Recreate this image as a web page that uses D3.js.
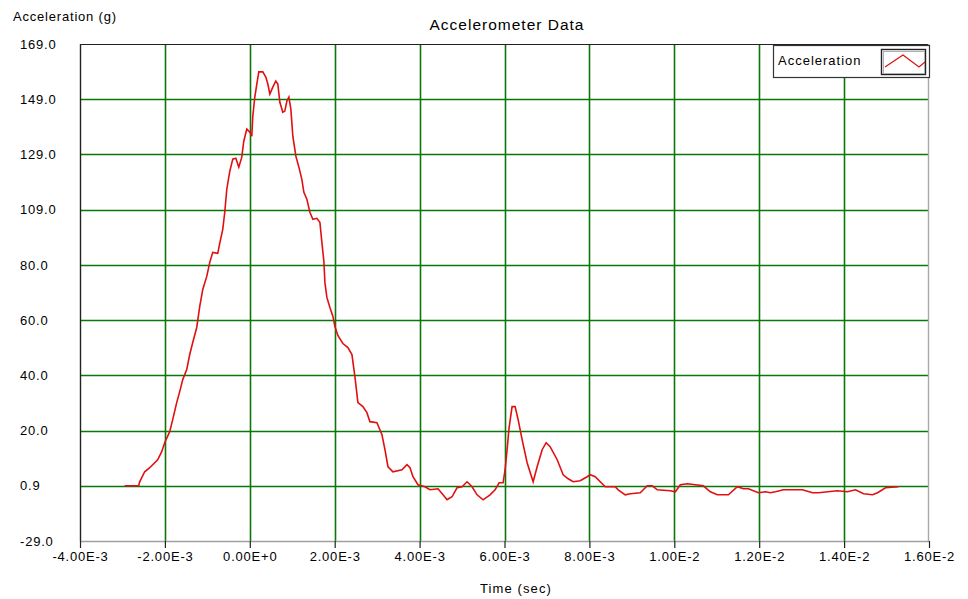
<!DOCTYPE html>
<html>
<head>
<meta charset="utf-8">
<script src="https://cdn.jsdelivr.net/npm/d3@7"></script>
<style>
  html, body { margin: 0; padding: 0; background: #fff; }
  svg { display: block; font-family: "Liberation Sans", Arial, sans-serif; }
</style>
</head>
<body>
<svg id="chart" width="968" height="599"></svg>
<script>
// ---- data (time in seconds, acceleration in g) ----
const timeMs = [
  -2.948,-2.618,-2.594,-2.476,-2.358,-2.170,-2.075,-2.005,-1.887,-1.816,-1.722,-1.651,-1.580,-1.486,-1.415,-1.344,-1.250,-1.179,-1.108,-1.014,
  -0.943,-0.873,-0.755,-0.708,-0.637,-0.590,-0.542,-0.472,-0.401,-0.330,-0.259,-0.189,-0.142,-0.071,0.000,0.047,0.071,0.118,0.165,0.212,
  0.307,0.377,0.425,0.472,0.542,0.613,0.660,0.708,0.778,0.825,0.873,0.920,0.967,1.014,1.085,1.156,1.226,1.274,1.344,1.415,
  1.486,1.580,1.651,1.698,1.745,1.769,1.816,1.887,1.958,2.005,2.075,2.193,2.311,2.406,2.476,2.547,2.665,2.759,2.830,2.995,
  3.113,3.184,3.255,3.373,3.585,3.703,3.774,3.844,3.962,4.127,4.245,4.434,4.552,4.646,4.764,4.882,5.000,5.118,5.236,5.354,
  5.495,5.660,5.778,5.873,5.967,6.014,6.061,6.108,6.179,6.250,6.321,6.415,6.533,6.675,6.769,6.887,6.981,7.075,7.241,7.382,
  7.500,7.618,7.783,7.948,8.019,8.137,8.255,8.373,8.608,8.679,8.844,8.962,9.198,9.363,9.481,9.599,9.906,10.024,10.142,10.307,
  10.684,10.849,11.014,11.274,11.486,11.627,11.745,11.981,12.146,12.264,12.382,12.571,13.019,13.255,13.396,13.844,14.080,14.269,14.458,14.670,
  14.788,14.976,15.283
];
const accel = [
  0,0,1.45,5.08,6.53,9.43,12.34,15.60,19.59,23.95,30.12,34.11,38.46,42.09,47.53,51.89,57.33,64.95,71.12,75.83,
  80.91,84.54,84.18,87.81,92.89,99.06,107.4,113.9,118.3,118.6,115.4,119.0,124.8,129.2,128.1,126.6,133.9,140.8,145.5,149.9,
  149.9,148.0,145.5,141.9,144.4,146.6,145.5,138.9,135.3,135.7,139.3,140.8,136.4,126.6,119.4,115.4,111.0,106.3,103.8,99.06,
  96.52,96.88,95.43,88.17,81.28,73.66,68.22,64.59,61.32,57.69,54.43,51.52,50.07,47.53,39.55,30.12,28.66,26.49,23.22,22.86,
  18.50,13.06,6.89,5.08,5.81,7.62,6.53,3.27,0.36,-0.36,-1.45,-1.09,-3.27,-5.08,-3.99,-0.73,-0.36,1.45,-0.36,-3.27,
  -5.08,-3.27,-1.45,1.09,1.09,5.81,13.06,21.04,28.66,28.66,23.95,16.69,8.35,1.45,6.89,13.06,15.60,14.15,9.43,3.99,
  2.54,1.45,1.81,3.27,3.99,3.27,1.45,-0.36,-0.36,-1.45,-3.27,-2.90,-2.54,0,0,-1.45,-1.81,-2.18,0.36,0.73,
  0,-2.18,-3.27,-3.27,-0.36,-1.09,-1.09,-2.54,-2.18,-2.54,-2.18,-1.45,-1.45,-2.54,-2.54,-1.81,-2.18,-1.45,-2.90,-3.27,
  -2.54,-0.73,-0.36
];
const xTickValues = [-0.004,-0.002,0,0.002,0.004,0.006,0.008,0.010,0.012,0.014,0.016];
const xTickLabels = ["-4.00E-3","-2.00E-3","0.00E+0","2.00E-3","4.00E-3","6.00E-3","8.00E-3","1.00E-2","1.20E-2","1.40E-2","1.60E-2"];
const yTickValues = [160,140,120,100,80,60,40,20,0,-20];
const yTickLabels = ["169.0","149.0","129.0","109.0","80.0","60.0","40.0","20.0","0.9","-29.0"];
const seriesName = "Acceleration";
const chartTitle = "Accelerometer Data";
const xTitle = "Time (sec)";
const yTitle = "Acceleration (g)";

const data = timeMs.map((t, i) => ({ t: t / 1000, v: accel[i] }));

// ---- layout ----
const svg = d3.select("#chart");
const L = 80, R = 929, T = 44, B = 541;
const x = d3.scaleLinear().domain([-0.004, 0.016]).range([L, R]);
const y = d3.scaleLinear().domain([-20, 160]).range([B, T]);
const gridColor = "#0b770b";
const FONT = "'Liberation Sans', Arial, sans-serif";

// grid
svg.append("g").selectAll("line")
  .data(xTickValues.filter(v => v > -0.004 && v < 0.016))
  .join("line")
  .attr("x1", d => Math.round(x(d)) + 0.5).attr("x2", d => Math.round(x(d)) + 0.5)
  .attr("y1", T).attr("y2", B)
  .attr("stroke", gridColor).attr("stroke-width", 1.6);
svg.append("g").selectAll("line")
  .data(yTickValues.filter(v => v > -20 && v < 160))
  .join("line")
  .attr("x1", L).attr("x2", R)
  .attr("y1", d => Math.round(y(d)) + 0.5).attr("y2", d => Math.round(y(d)) + 0.5)
  .attr("stroke", gridColor).attr("stroke-width", 1.6);

// frame
svg.append("line").attr("x1", L).attr("x2", R).attr("y1", T + 0.5).attr("y2", T + 0.5).attr("stroke", "#222").attr("stroke-width", 1.2);
svg.append("line").attr("x1", R - 0.5).attr("x2", R - 0.5).attr("y1", T).attr("y2", B).attr("stroke", "#a8a8a8").attr("stroke-width", 1.4);
svg.append("line").attr("x1", L + 0.5).attr("x2", L + 0.5).attr("y1", T).attr("y2", B).attr("stroke", "#222").attr("stroke-width", 1.4);

// x axis
const xAxis = d3.axisBottom(x)
  .tickValues(xTickValues)
  .tickFormat((d, i) => xTickLabels[i])
  .tickSize(7).tickSizeOuter(0).tickPadding(4);
const gx = svg.append("g").attr("transform", `translate(0,${B})`).call(xAxis);
gx.select(".domain").attr("stroke", "#a0a0a0").attr("stroke-width", 1.4);
gx.selectAll(".tick line").attr("stroke", "#222").attr("stroke-width", 1.2);
gx.selectAll("text").attr("fill", "#000").attr("font-size", 13)
  .attr("letter-spacing", "0.8px").attr("font-family", FONT);

// y axis (labels left-aligned as in reference)
const yAxis = d3.axisLeft(y)
  .tickValues(yTickValues)
  .tickFormat((d, i) => yTickLabels[i])
  .tickSize(0).tickSizeOuter(0);
const gy = svg.append("g").attr("transform", `translate(${L},0)`).call(yAxis);
gy.select(".domain").remove();
gy.selectAll("text").attr("text-anchor", "start").attr("x", 20 - L)
  .attr("fill", "#000").attr("font-size", 13).attr("letter-spacing", "0.8px")
  .attr("font-family", FONT);

// line
const line = d3.line().x(d => x(d.t)).y(d => y(d.v));
svg.append("path").datum(data)
  .attr("d", line)
  .attr("fill", "none")
  .attr("stroke", "#e01010")
  .attr("stroke-width", 1.6)
  .attr("stroke-linejoin", "miter");

// titles
svg.append("text").attr("x", 507).attr("y", 30).attr("text-anchor", "middle")
  .attr("font-size", 15.5).attr("letter-spacing", "1px").attr("fill", "#000").text(chartTitle);
svg.append("text").attr("x", 13).attr("y", 21).attr("font-size", 13).attr("letter-spacing", "0.8px")
  .attr("fill", "#000").text(yTitle);
svg.append("text").attr("x", 516).attr("y", 593).attr("text-anchor", "middle")
  .attr("font-size", 13).attr("letter-spacing", "1.1px").attr("fill", "#000").text(xTitle);

// legend
const lg = svg.append("g");
lg.append("rect").attr("x", 773.5).attr("y", 45.5).attr("width", 156).attr("height", 32)
  .attr("fill", "#fff").attr("stroke", "#333").attr("stroke-width", 1.2);
lg.append("text").attr("x", 778).attr("y", 65).attr("font-size", 13).attr("letter-spacing", "1px")
  .attr("fill", "#000").text(seriesName);
lg.append("rect").attr("x", 881.5).attr("y", 49.5).attr("width", 44).attr("height", 25)
  .attr("fill", "#fff").attr("stroke", "#222").attr("stroke-width", 1.4);
lg.append("rect").attr("x", 883.5).attr("y", 51.5).attr("width", 41).attr("height", 22)
  .attr("fill", "none").attr("stroke", "#b0b0b0").attr("stroke-width", 1);
lg.append("path").attr("d", "M885,67 L903,55 L919,67 L925,62")
  .attr("fill", "none").attr("stroke", "#e01010").attr("stroke-width", 1.2);
</script>
</body>
</html>
